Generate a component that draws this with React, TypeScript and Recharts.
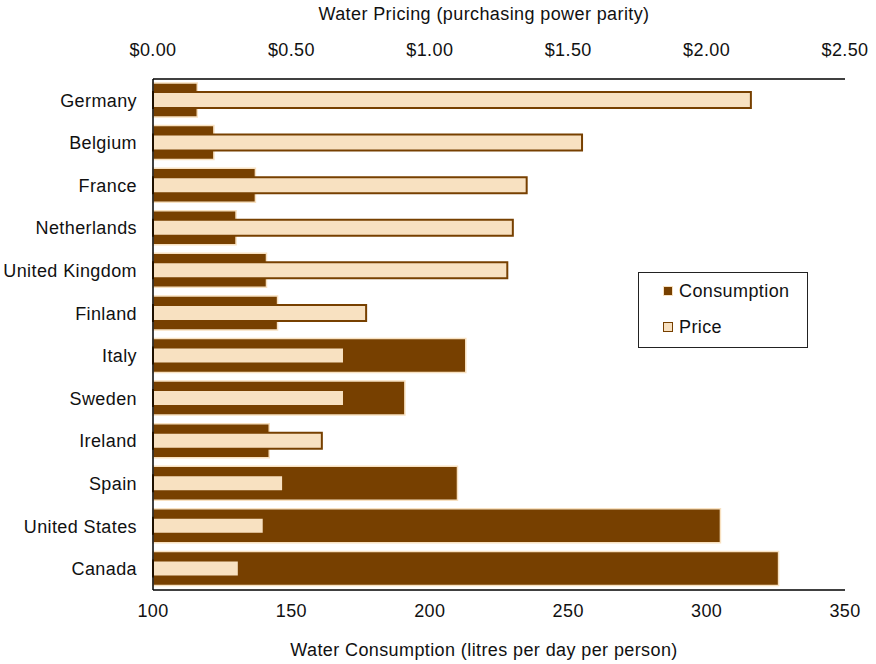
import React from 'react';
import { BarChart, Bar, XAxis, YAxis, Legend } from 'recharts';

const countries = ['Germany', 'Belgium', 'France', 'Netherlands', 'United Kingdom', 'Finland', 'Italy', 'Sweden', 'Ireland', 'Spain', 'United States', 'Canada'];
const consumption = [116, 122, 137, 130, 141, 145, 213, 191, 142, 210, 305, 326];
const price = [2.16, 1.55, 1.35, 1.30, 1.28, 0.77, 0.69, 0.69, 0.61, 0.47, 0.40, 0.31];
const consumptionTicks = [100, 150, 200, 250, 300, 350];
const priceTicks = [0, 0.5, 1, 1.5, 2, 2.5];

const data = countries.map((c, i) => ({ country: c, consumption: consumption[i], price: price[i] }));

const DARK = '#774000';
const CREAM = '#f8e1c1';
const FONT = '"Liberation Sans", Arial, sans-serif';
const FS = 18;
const LS = 0.4;
const textStyle = { fill: '#111', fontSize: FS, fontFamily: FONT, letterSpacing: LS };

const LegendBox = () => (
  <div style={{ width: 170, height: 76, border: '1.5px solid #222', boxSizing: 'border-box', background: '#fff', fontFamily: FONT, fontSize: FS, letterSpacing: LS, color: '#111', position: 'relative', lineHeight: '20px' }}>
    <div style={{ position: 'absolute', left: 24, top: 8, display: 'flex', alignItems: 'center' }}>
      <span style={{ width: 8, height: 8, background: DARK, border: `1.5px solid ${CREAM}`, display: 'inline-block', marginRight: 6 }} />
      <span>Consumption</span>
    </div>
    <div style={{ position: 'absolute', left: 24, top: 44, display: 'flex', alignItems: 'center' }}>
      <span style={{ width: 8, height: 8, background: CREAM, border: `1.5px solid ${DARK}`, display: 'inline-block', marginRight: 6 }} />
      <span>Price</span>
    </div>
  </div>
);

export default function App() {
  return (
    <div style={{ position: 'absolute', left: 0, top: 0, background: '#fff' }}>
      <BarChart width={876} height={664} data={data} layout="vertical" margin={{ top: 0, right: 31, bottom: 0, left: 0 }}>
        <XAxis
          xAxisId="cons"
          type="number"
          orientation="bottom"
          domain={[100, 350]}
          ticks={consumptionTicks}
          height={74}
          axisLine={{ stroke: '#000', strokeWidth: 1.5 }}
          tickLine={false}
          tickSize={0}
          tickMargin={14}
          tick={textStyle}
          label={{ value: 'Water Consumption (litres per day per person)', position: 'insideBottom', offset: 8, dx: -15, ...textStyle }}
        />
        <XAxis
          xAxisId="price"
          type="number"
          orientation="top"
          domain={[0, 2.5]}
          ticks={priceTicks}
          height={79}
          axisLine={{ stroke: '#000', strokeWidth: 1.5 }}
          tickLine={false}
          tickSize={0}
          tickMargin={23}
          tickFormatter={(v: number) => `$${v.toFixed(2)}`}
          tick={textStyle}
          label={{ value: 'Water Pricing (purchasing power parity)', position: 'insideTop', offset: 7, dx: -15, ...textStyle }}
        />
        <YAxis
          yAxisId="a"
          type="category"
          dataKey="country"
          width={153}
          axisLine={{ stroke: '#000', strokeWidth: 1.5 }}
          tickLine={false}
          tickSize={0}
          tickMargin={16}
          tick={textStyle}
        />
        <YAxis yAxisId="b" type="category" dataKey="country" hide />
        <Legend
          layout="vertical"
          verticalAlign="middle"
          align="center"
          wrapperStyle={{ position: 'absolute', left: 638, top: 272, width: 170 }}
          content={() => <LegendBox />}
        />
        <Bar dataKey="consumption" name="Consumption" xAxisId="cons" yAxisId="a" barSize={34} fill={DARK} stroke={CREAM} strokeWidth={1.5} isAnimationActive={false} />
        <Bar dataKey="price" name="Price" xAxisId="price" yAxisId="b" barSize={16} fill={CREAM} stroke={DARK} strokeWidth={2} isAnimationActive={false} />
      </BarChart>
    </div>
  );
}
